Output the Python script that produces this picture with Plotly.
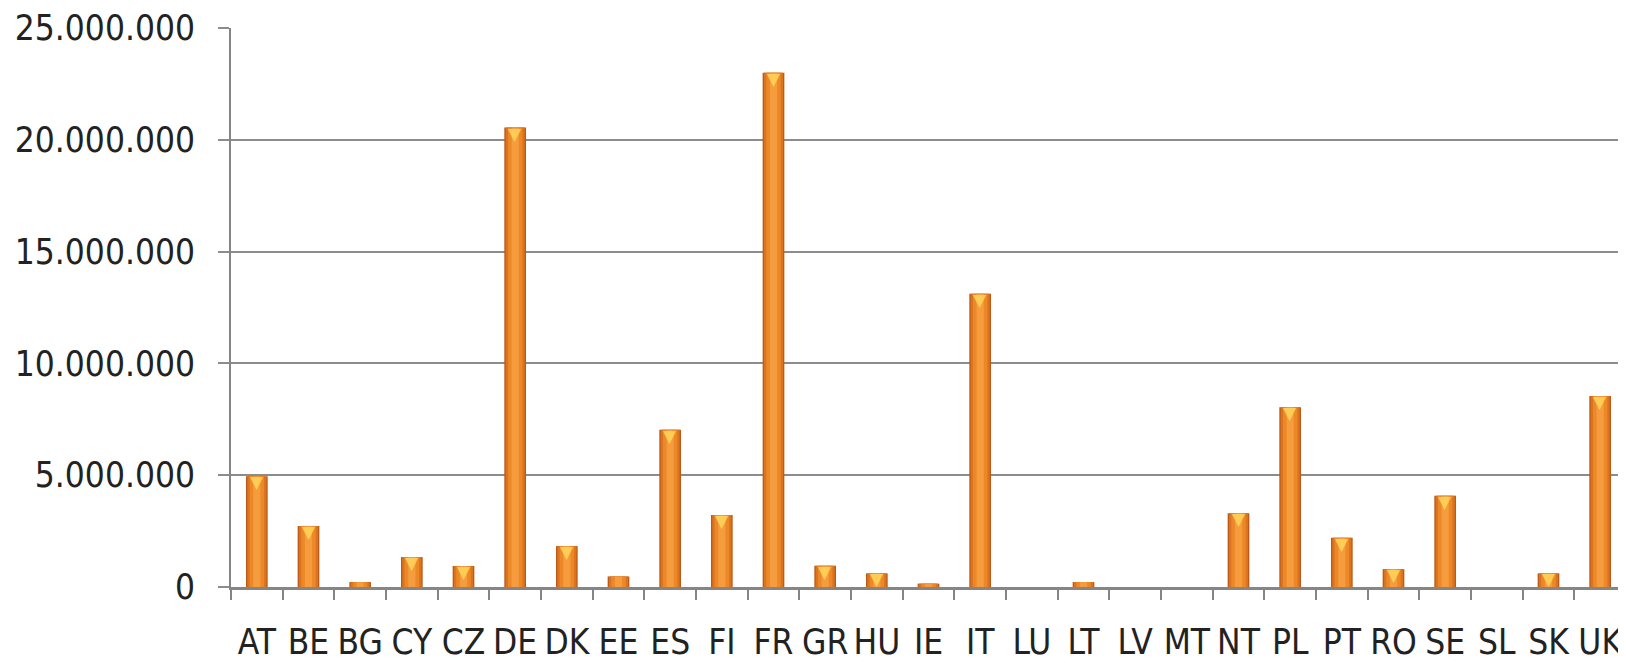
import plotly.graph_objects as go

countries = ["AT", "BE", "BG", "CY", "CZ", "DE", "DK", "EE", "ES", "FI", "FR", "GR", "HU", "IE",
             "IT", "LU", "LT", "LV", "MT", "NT", "PL", "PT", "RO", "SE", "SL", "SK", "UK"]
values = [4950000, 2730000, 220000, 1340000, 940000, 20550000, 1830000, 470000, 7030000, 3220000,
          23000000, 950000, 610000, 150000, 13120000, 0, 220000, 0, 0, 3300000, 8040000, 2200000,
          800000, 4080000, 0, 610000, 8540000]

y_ticks = [0, 5000000, 10000000, 15000000, 20000000, 25000000]

FONT = "DejaVu Sans Condensed, DejaVu Sans, Liberation Sans, sans-serif"

fig = go.Figure()
# cylinder-like shading with layered bars
for w, c in [(0.42, "#BC5A1B"), (0.37, "#DA741E"), (0.28, "#EC8828"), (0.14, "#F59C3E")]:
    fig.add_trace(go.Bar(x=countries, y=values, width=w, marker=dict(color=c, line=dict(width=0)),
                         hoverinfo="x+y", showlegend=False))

for c, v in zip(countries, values):
    if v >= 500000:
        fig.add_annotation(x=c, y=v, xref="x", yref="y", text="▼", showarrow=False,
                           yanchor="top", yshift=5, borderpad=0,
                           font=dict(size=17, color="#FFCC55", family="DejaVu Sans"))

fig.update_layout(
    width=1626, height=663,
    margin=dict(l=223, r=8, t=20, b=84),
    paper_bgcolor="white", plot_bgcolor="white",
    barmode="overlay",
    separators=",.",
    font=dict(family=FONT, size=35, color="#222222"),
)
fig.update_xaxes(
    range=[-0.5, 26.5], type="category", automargin=False, tickangle=0,
    showline=True, linecolor="#858585", linewidth=3,
    ticks="outside", tickson="boundaries", ticklen=10, tickwidth=2, tickcolor="#858585",
    showgrid=False, ticklabelstandoff=22,
    tickfont=dict(size=35, family=FONT, color="#222222"),
)
fig.update_yaxes(
    range=[0, 25000000], tickvals=y_ticks, tickformat=",d", automargin=False,
    showline=True, linecolor="#858585", linewidth=2,
    showgrid=True, gridcolor="#8C8C8C", gridwidth=2,
    ticks="outside", ticklen=11, tickwidth=2, tickcolor="#8C8C8C",
    zeroline=False, ticklabelstandoff=16,
    tickfont=dict(size=35, family=FONT, color="#222222"),
)

fig.write_html("out.html")
